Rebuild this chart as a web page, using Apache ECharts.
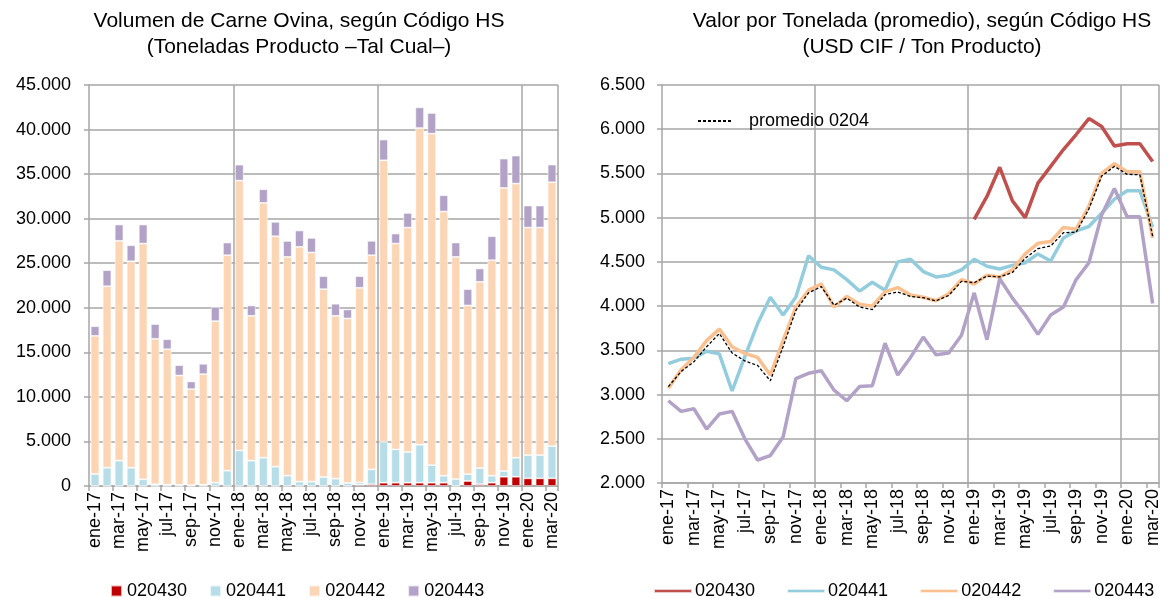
<!DOCTYPE html>
<html><head><meta charset="utf-8">
<script src="https://cdn.jsdelivr.net/npm/echarts@6/dist/echarts.min.js"></script>
<style>html,body{margin:0;padding:0;background:#fff}#c{width:1168px;height:598px}</style>
</head><body><div id="c"></div>
<script>
const months = ['ene-17','feb-17','mar-17','abr-17','may-17','jun-17','jul-17','ago-17','sep-17','oct-17','nov-17','dic-17',
'ene-18','feb-18','mar-18','abr-18','may-18','jun-18','jul-18','ago-18','sep-18','oct-18','nov-18','dic-18',
'ene-19','feb-19','mar-19','abr-19','may-19','jun-19','jul-19','ago-19','sep-19','oct-19','nov-19','dic-19',
'ene-20','feb-20','mar-20'];
const seriesNames = ['020430','020441','020442','020443'];
// Volumen (toneladas)
const vol020430 = [0,0,0,0,0,0,0,0,0,0,0,0, 0,0,0,0,0,0,0,0,0,0,150,200, 370,370,370,370,370,370,0,560,200,370,1040,1040, 860,860,860];
const vol020441 = [1350,2050,2840,2050,750,200,150,150,100,150,370,1720, 4000,2840,3180,2170,1160,490,490,1010,820,340,250,1670, 4590,3740,3440,4260,1980,780,780,780,1810,780,640,2130, 2610,2610,3620];
const vol020442 = [15500,20370,24670,23170,26460,16320,15200,12250,10770,12400,18130,24180, 30270,16260,28590,25860,24550,26350,25710,21080,18280,18460,21840,24030, 31590,23100,25190,35540,37190,29650,24930,18920,20900,24190,31770,30770, 25530,25530,29610];
const vol020443 = [1080,1800,1830,1800,2130,1650,1120,1160,860,1160,1600,1420, 1790,1160,1530,1610,1790,1830,1640,1460,1350,1010,1310,1610, 2320,1120,1640,2320,2320,1830,1610,1830,1500,2690,3290,3140, 2470,2470,1980];
// Valor por tonelada (USD CIF / Ton)
const val020430 = [null,null,null,null,null,null,null,null,null,null,null,null, null,null,null,null,null,null,null,null,null,null,null,null, 4980,5240,5570,5190,5000,5390,5580,5770,5940,6120,6030,5810, 5835,5835,5635];
const val020441 = [3350,3400,3410,3490,3460,3040,3430,3800,4100,3900,4100,4570, 4440,4410,4300,4170,4270,4180,4500,4530,4390,4330,4350,4410, 4530,4450,4420,4460,4490,4590,4510,4770,4850,4900,5050,5210, 5305,5305,4890];
const val020442 = [3070,3280,3420,3610,3740,3540,3465,3420,3220,3610,3990,4180, 4250,3990,4110,4020,4000,4160,4210,4125,4100,4060,4140,4300, 4250,4350,4330,4410,4590,4710,4730,4890,4870,5130,5500,5610, 5520,5520,4770];
const val020443 = [2930,2810,2840,2610,2780,2810,2500,2260,2310,2520,3180,3240, 3270,3050,2930,3090,3100,3580,3220,3420,3650,3450,3470,3670, 4150,3620,4310,4090,3900,3680,3900,3990,4300,4490,5030,5330, 5010,5010,4030];
const promedio0204 = [3090,3260,3370,3540,3690,3470,3380,3330,3155,3540,3950,4150, 4220,4010,4090,3990,3960,4130,4160,4110,4095,4060,4120,4280, 4265,4340,4330,4380,4540,4650,4680,4830,4835,5100,5470,5580, 5490,5485,4790];
const promedioName = 'promedio 0204';

const barColors = ['#C00000','#B7DEE8','#FCD5B5','#B3A2C7'];
const lineColors = ['#C0504D','#93CDDD','#FAC090','#B3A2C7'];
const FONT = 'Liberation Sans';
const grey = '#A6A6A6';
const fmt = v => String(v).replace(/\B(?=(\d{3})+(?!\d))/g, '.');
const yearSplit = (i) => i === 12 || i === 24 || i === 36;

function xAxis(gridIndex){
  return {
    type:'category', gridIndex, data: months, boundaryGap: true,
    axisLine:{lineStyle:{color:grey,width:1.5}},
    axisTick:{show:true, interval:1, length:5, lineStyle:{color:grey,width:1.5}},
    axisLabel:{interval:1, rotate:90, color:'#000', fontFamily:FONT, fontSize:18, margin:6},
    splitLine:{show:true, interval: yearSplit, lineStyle:{color:grey,width:1.5}}
  };
}
const volArrs = [vol020430, vol020441, vol020442, vol020443];
const valArrs = [val020430, val020441, val020442, val020443];

const series = [];
seriesNames.forEach((n,i)=>{
  series.push({name:n, type:'bar', stack:'vol', xAxisIndex:0, yAxisIndex:0, data: volArrs[i], barWidth:'72%',
    itemStyle:{color:barColors[i], borderColor:'rgba(255,255,255,0.7)', borderWidth:0.8}});
});
seriesNames.forEach((n,i)=>{
  series.push({name:n, type:'line', xAxisIndex:1, yAxisIndex:1, data: valArrs[i], symbol:'none',
    lineStyle:{color:lineColors[i], width:3.5}, itemStyle:{color:lineColors[i]}, z: 3});
});
series.push({name:promedioName, type:'line', xAxisIndex:1, yAxisIndex:1, data: promedio0204, symbol:'none',
  lineStyle:{color:'#000', width:1.3, type:[3,2]}, itemStyle:{color:'#000'}, z: 4});

const option = {
  animation:false,
  textStyle:{fontFamily:FONT},
  title:[
    {text:'Volumen de Carne Ovina, según Código HS\n(Toneladas Producto –Tal Cual–)', left:294, top:3, textAlign:'center',
     textStyle:{fontFamily:FONT, fontSize:21, fontWeight:'normal', color:'#000', lineHeight:26}},
    {text:'Valor por Tonelada (promedio), según Código HS\n(USD CIF / Ton Producto)', left:917, top:3, textAlign:'center',
     textStyle:{fontFamily:FONT, fontSize:21, fontWeight:'normal', color:'#000', lineHeight:26}}
  ],
  legend:[
    {data: seriesNames.map((n,i)=>({name:n, itemStyle:{color:barColors[i]}})), left:105, top:577, icon:'rect', itemWidth:11, itemHeight:11, itemGap:22,
     textStyle:{fontFamily:FONT, fontSize:18, color:'#000'}, selectedMode:false},
    {data: seriesNames.map((n,i)=>({name:n, itemStyle:{color:lineColors[i]}})), left:648, top:577, icon:'roundRect', itemWidth:38, itemHeight:4, itemGap:31,
     textStyle:{fontFamily:FONT, fontSize:18, color:'#000', padding:[0,0,0,-2]}, selectedMode:false},
    {data:[promedioName], left:692, top:107, itemWidth:34, itemHeight:10, itemStyle:{opacity:0},
     textStyle:{fontFamily:FONT, fontSize:18, color:'#000', padding:[0,0,8,12]}, selectedMode:false}
  ],
  grid:[
    {left:89, top:85, width:469, height:401},
    {left:662, top:85, width:497, height:398}
  ],
  xAxis:[xAxis(0), xAxis(1)],
  yAxis:[
    {type:'value', gridIndex:0, min:0, max:45000, interval:5000,
     axisLine:{show:true, lineStyle:{color:grey,width:1.5}}, axisTick:{show:true,length:5, lineStyle:{color:grey,width:1.5}},
     axisLabel:{formatter:fmt, color:'#000', fontFamily:FONT, fontSize:18, margin:18},
     splitLine:{lineStyle:{color:grey,width:1.5}}},
    {type:'value', gridIndex:1, min:2000, max:6500, interval:500,
     axisLine:{show:true, lineStyle:{color:grey,width:1.5}}, axisTick:{show:true,length:5, lineStyle:{color:grey,width:1.5}},
     axisLabel:{formatter:fmt, color:'#000', fontFamily:FONT, fontSize:18, margin:17},
     splitLine:{lineStyle:{color:grey,width:1.5}}}
  ],
  series
};
const chart = echarts.init(document.getElementById('c'));
chart.setOption(option);
</script></body></html>
